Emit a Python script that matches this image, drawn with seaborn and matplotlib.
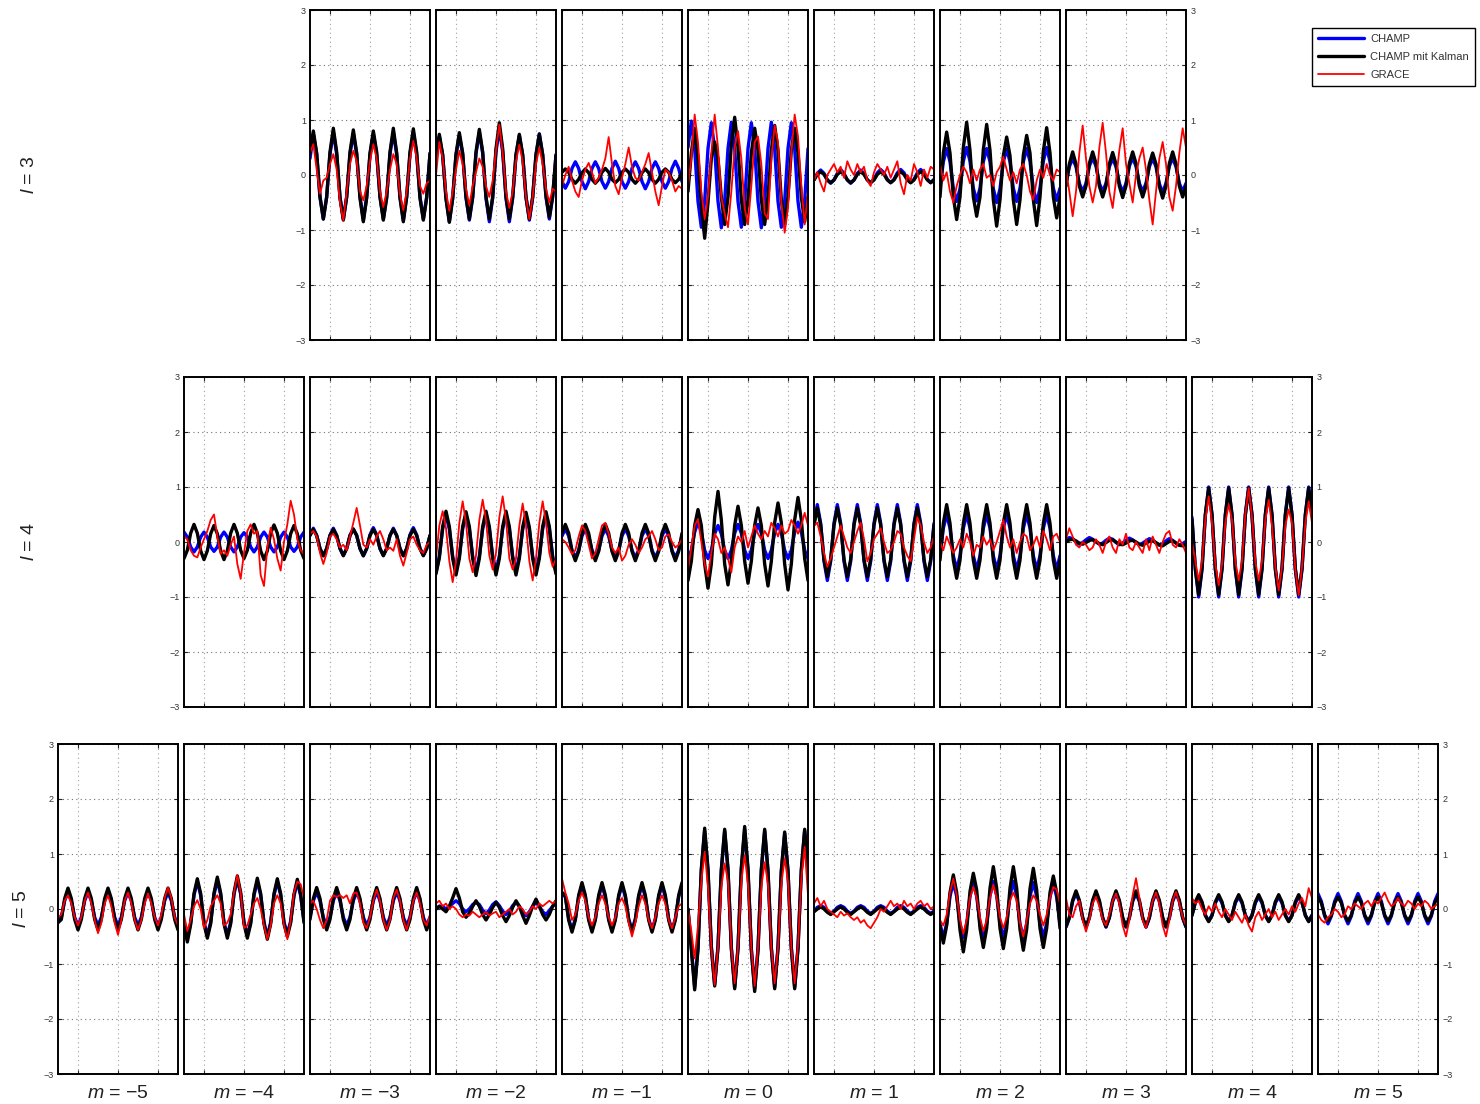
import matplotlib
matplotlib.use("Agg")
import matplotlib.pyplot as plt
import seaborn as sns

sns.set_style("white")
plt.rcParams["font.family"] = ["Liberation Sans", "DejaVu Sans"]
plt.rcParams["mathtext.fontset"] = "custom"
plt.rcParams["mathtext.it"] = "Liberation Sans:italic"
plt.rcParams["mathtext.rm"] = "Liberation Sans"

# ---------------- data ----------------
# sample times: months after Jan 2003 (bi-monthly samples, 2003 .. 2009)
MONTHS = [0, 2, 4, 6, 8, 10, 12, 14, 16, 18, 20, 22, 24, 26, 28, 30, 32, 34,
          36, 38, 40, 42, 44, 46, 48, 50, 52, 54, 56, 58, 60, 62, 64, 66, 68, 70, 72]
X_TICKS = [2004, 2006, 2008]
Y_TICKS = [-3, -2, -1, 0, 1, 2, 3]
SERIES_NAMES = ["CHAMP", "CHAMP mit Kalman", "GRACE"]

# ---- degree l = 3 ----
CHAMP_L3 = {
    -3: [0.30, 0.75, 0.38, -0.40, -0.80, -0.40, 0.38, 0.78, 0.38, -0.40, -0.80, -0.40,
         0.38, 0.76, 0.38, -0.40, -0.82, -0.40, 0.37, 0.75, 0.38, -0.40, -0.80, -0.40,
         0.38, 0.78, 0.38, -0.40, -0.82, -0.40, 0.38, 0.78, 0.38, -0.40, -0.80, -0.40, 0.38],
    -2: [0.35, 0.70, 0.36, -0.42, -0.85, -0.42, 0.36, 0.72, 0.38, -0.41, -0.82, -0.41,
         0.39, 0.78, 0.40, -0.42, -0.85, -0.42, 0.42, 0.85, 0.42, -0.42, -0.85, -0.42,
         0.36, 0.72, 0.36, -0.41, -0.82, -0.41, 0.37, 0.75, 0.37, -0.40, -0.80, -0.40, 0.36],
    -1: [-0.12, -0.24, -0.12, 0.12, 0.24, 0.12, -0.12, -0.25, -0.12, 0.12, 0.24, 0.12,
         -0.12, -0.24, -0.12, 0.12, 0.25, 0.12, -0.12, -0.24, -0.12, 0.12, 0.24, 0.12,
         -0.12, -0.25, -0.12, 0.12, 0.24, 0.12, -0.12, -0.24, -0.12, 0.12, 0.25, 0.12, -0.12],
    0: [0.50, 0.98, 0.48, -0.48, -0.95, -0.48, 0.48, 0.95, 0.48, -0.48, -0.96, -0.48,
        0.48, 0.96, 0.48, -0.48, -0.95, -0.48, 0.48, 0.95, 0.48, -0.48, -0.96, -0.48,
        0.48, 0.96, 0.48, -0.48, -0.95, -0.48, 0.48, 0.95, 0.48, -0.48, -0.95, -0.48, 0.48],
    1: [-0.09, 0.03, 0.09, 0.03, -0.09, -0.15, -0.09, 0.03, 0.10, 0.03, -0.09, -0.15,
        -0.09, 0.03, 0.09, 0.03, -0.09, -0.14, -0.08, 0.04, 0.10, 0.04, -0.08, -0.14,
        -0.08, 0.04, 0.10, 0.04, -0.08, -0.14, -0.08, 0.04, 0.10, 0.04, -0.08, -0.14, -0.08],
    2: [-0.24, 0.24, 0.48, 0.24, -0.24, -0.48, -0.25, 0.25, 0.50, 0.25, -0.24, -0.47,
        -0.24, 0.24, 0.48, 0.24, -0.25, -0.50, -0.25, 0.24, 0.47, 0.24, -0.24, -0.48,
        -0.24, 0.24, 0.48, 0.25, -0.25, -0.50, -0.24, 0.25, 0.50, 0.24, -0.24, -0.46, -0.24],
    3: [-0.15, 0.15, 0.30, 0.15, -0.15, -0.30, -0.15, 0.16, 0.31, 0.16, -0.15, -0.30,
        -0.15, 0.15, 0.30, 0.15, -0.15, -0.31, -0.15, 0.16, 0.31, 0.16, -0.15, -0.30,
        -0.15, 0.15, 0.30, 0.15, -0.16, -0.32, -0.15, 0.16, 0.31, 0.15, -0.15, -0.30, -0.15],
}
KALMAN_L3 = {
    -3: [0.40, 0.80, 0.40, -0.40, -0.80, -0.40, 0.42, 0.85, 0.42, -0.42, -0.82, -0.40,
         0.42, 0.82, 0.40, -0.42, -0.85, -0.42, 0.40, 0.80, 0.42, -0.40, -0.82, -0.42,
         0.42, 0.85, 0.40, -0.42, -0.85, -0.40, 0.42, 0.84, 0.42, -0.42, -0.82, -0.42, 0.40],
    -2: [0.37, 0.74, 0.37, -0.43, -0.86, -0.43, 0.38, 0.77, 0.40, -0.40, -0.80, -0.40,
         0.42, 0.83, 0.42, -0.40, -0.80, -0.40, 0.48, 0.95, 0.48, -0.40, -0.80, -0.40,
         0.37, 0.74, 0.37, -0.40, -0.80, -0.40, 0.37, 0.74, 0.37, -0.38, -0.77, -0.38, 0.37],
    -1: [0.05, 0.11, 0.05, -0.08, -0.15, -0.08, 0.04, 0.11, 0.04, -0.08, -0.15, -0.08,
         0.05, 0.12, 0.05, -0.08, -0.14, -0.08, 0.05, 0.11, 0.05, -0.08, -0.15, -0.08,
         0.04, 0.11, 0.04, -0.08, -0.15, -0.08, 0.05, 0.11, 0.05, -0.08, -0.14, -0.08, 0.04],
    0: [-0.30, 0.40, 0.85, 0.30, -0.55, -1.15, -0.50, 0.30, 0.60, 0.30, -0.40, -0.90,
        -0.40, 0.55, 1.05, 0.50, -0.45, -0.90, -0.45, 0.40, 0.85, 0.45, -0.45, -0.90,
        -0.40, 0.45, 0.90, 0.45, -0.45, -0.90, -0.40, 0.45, 0.85, 0.40, -0.40, -0.85, -0.40],
    1: [-0.09, 0.01, 0.06, 0.01, -0.09, -0.14, -0.09, 0.01, 0.06, 0.01, -0.09, -0.14,
        -0.09, 0.01, 0.06, 0.01, -0.09, -0.14, -0.09, 0.01, 0.06, 0.01, -0.09, -0.14,
        -0.09, 0.01, 0.06, 0.01, -0.09, -0.14, -0.09, 0.01, 0.06, 0.01, -0.09, -0.14, -0.09],
    2: [-0.40, 0.40, 0.78, 0.40, -0.40, -0.81, -0.40, 0.50, 0.96, 0.45, -0.40, -0.75,
        -0.40, 0.46, 0.92, 0.45, -0.45, -0.93, -0.45, 0.35, 0.69, 0.35, -0.45, -0.90,
        -0.45, 0.36, 0.72, 0.40, -0.45, -0.92, -0.40, 0.43, 0.86, 0.40, -0.40, -0.78, -0.40],
    3: [-0.20, 0.20, 0.42, 0.20, -0.20, -0.40, -0.20, 0.21, 0.42, 0.21, -0.20, -0.40,
        -0.20, 0.20, 0.41, 0.20, -0.20, -0.41, -0.20, 0.21, 0.42, 0.21, -0.20, -0.40,
        -0.20, 0.20, 0.40, 0.20, -0.21, -0.42, -0.20, 0.21, 0.42, 0.20, -0.20, -0.40, -0.20],
}
GRACE_L3 = {
    -3: [0.40, 0.56, 0.10, -0.34, -0.10, -0.05, 0.20, 0.38, 0.10, -0.50, -0.83, -0.30,
         0.20, 0.44, 0.25, -0.30, -0.46, -0.20, 0.25, 0.56, 0.30, -0.30, -0.58, -0.30,
         0.10, 0.38, 0.20, -0.35, -0.64, -0.30, 0.30, 0.62, 0.30, -0.20, -0.34, -0.15, -0.10],
    -2: [0.00, 0.60, 0.30, -0.30, -0.65, -0.30, 0.10, 0.44, 0.20, -0.25, -0.55, -0.20,
         0.05, 0.30, 0.15, -0.20, -0.40, -0.10, 0.45, 0.92, 0.40, -0.30, -0.60, -0.30,
         0.25, 0.55, 0.25, -0.40, -0.80, -0.40, 0.20, 0.50, 0.20, -0.25, -0.50, -0.25, -0.30],
    -1: [-0.20, 0.00, 0.15, -0.10, -0.30, -0.40, -0.10, 0.10, 0.22, 0.05, -0.15, -0.05,
         0.10, 0.30, 0.69, 0.20, -0.20, -0.35, -0.05, 0.20, 0.50, 0.15, -0.05, -0.10,
         0.05, 0.20, 0.40, 0.05, -0.30, -0.55, -0.20, 0.10, 0.05, -0.10, -0.30, -0.20, -0.25],
    0: [-0.20, 0.30, 1.10, 0.60, -0.30, -0.80, -0.40, 0.40, 1.10, 0.50, -0.40, -0.70,
        -0.95, -0.30, 0.50, 0.80, 0.30, -0.60, -0.90, -0.20, 0.60, 0.70, 0.20, -0.70,
        -0.80, 0.30, 0.90, 0.60, -0.50, -1.05, -0.60, 0.40, 1.10, 0.70, -0.20, -0.90, -0.30],
    1: [-0.10, 0.05, -0.15, -0.30, 0.00, 0.10, 0.20, 0.05, 0.15, -0.05, 0.25, 0.10,
        0.00, 0.20, 0.05, 0.15, -0.10, -0.20, 0.05, 0.20, 0.10, 0.00, 0.15, -0.05,
        0.10, 0.25, -0.15, -0.35, 0.00, -0.10, 0.20, 0.05, -0.20, 0.10, -0.05, 0.15, 0.10],
    2: [0.20, -0.10, 0.05, -0.30, -0.50, -0.20, 0.00, 0.15, 0.05, -0.15, 0.10, -0.10,
        0.10, 0.20, -0.05, 0.00, -0.20, 0.05, 0.15, 0.33, 0.10, -0.10, 0.05, -0.15,
        0.10, 0.20, 0.00, -0.30, -0.45, -0.10, 0.10, -0.05, 0.20, 0.00, -0.10, 0.10, 0.05],
    3: [0.10, -0.30, -0.75, -0.30, 0.40, 0.90, 0.30, -0.20, -0.50, -0.20, 0.50, 0.95,
        0.40, -0.30, -0.60, -0.10, 0.45, 0.85, 0.20, -0.15, -0.50, 0.00, 0.30, 0.50,
        0.10, -0.45, -0.90, -0.30, 0.30, 0.60, 0.20, -0.40, -0.65, -0.20, 0.40, 0.85, 0.50],
}

# ---- degree l = 4 ----
CHAMP_L4 = {
    -4: [0.18, 0.09, -0.09, -0.18, -0.09, 0.09, 0.18, 0.09, -0.09, -0.17, -0.09, 0.09,
         0.18, 0.09, -0.09, -0.18, -0.09, 0.09, 0.17, 0.09, -0.09, -0.18, -0.09, 0.09,
         0.18, 0.09, -0.09, -0.18, -0.09, 0.09, 0.18, 0.09, -0.09, -0.17, -0.09, 0.09, 0.18],
    -3: [0.12, 0.25, 0.12, -0.12, -0.25, -0.12, 0.12, 0.25, 0.12, -0.12, -0.24, -0.12,
         0.12, 0.24, 0.12, -0.12, -0.25, -0.12, 0.13, 0.26, 0.13, -0.12, -0.24, -0.12,
         0.12, 0.25, 0.12, -0.12, -0.25, -0.12, 0.13, 0.26, 0.13, -0.12, -0.24, -0.12, 0.12],
    -2: [-0.55, -0.26, 0.24, 0.48, 0.24, -0.26, -0.52, -0.26, 0.24, 0.48, 0.24, -0.26,
         -0.52, -0.26, 0.24, 0.47, 0.24, -0.26, -0.52, -0.26, 0.24, 0.48, 0.24, -0.26,
         -0.52, -0.26, 0.23, 0.46, 0.23, -0.26, -0.52, -0.26, 0.24, 0.48, 0.24, -0.26, -0.52],
    -1: [0.11, 0.24, 0.11, -0.15, -0.28, -0.15, 0.11, 0.24, 0.11, -0.15, -0.28, -0.15,
         0.11, 0.24, 0.11, -0.15, -0.28, -0.15, 0.11, 0.24, 0.11, -0.15, -0.28, -0.15,
         0.11, 0.24, 0.11, -0.15, -0.28, -0.15, 0.11, 0.24, 0.11, -0.15, -0.28, -0.15, 0.11],
    0: [-0.30, -0.15, 0.18, 0.36, 0.18, -0.15, -0.30, -0.15, 0.15, 0.30, 0.15, -0.15,
        -0.30, -0.15, 0.16, 0.32, 0.16, -0.15, -0.30, -0.15, 0.16, 0.32, 0.16, -0.15,
        -0.30, -0.15, 0.16, 0.32, 0.16, -0.15, -0.30, -0.15, 0.18, 0.36, 0.18, -0.15, -0.30],
    1: [0.34, 0.68, 0.34, -0.35, -0.70, -0.35, 0.34, 0.68, 0.34, -0.35, -0.70, -0.35,
        0.34, 0.68, 0.34, -0.35, -0.70, -0.35, 0.34, 0.68, 0.34, -0.35, -0.70, -0.35,
        0.34, 0.68, 0.34, -0.35, -0.70, -0.35, 0.34, 0.68, 0.34, -0.35, -0.70, -0.35, 0.34],
    2: [-0.25, 0.25, 0.50, 0.25, -0.25, -0.50, -0.25, 0.25, 0.50, 0.25, -0.25, -0.50,
        -0.25, 0.25, 0.50, 0.25, -0.25, -0.50, -0.25, 0.25, 0.50, 0.25, -0.25, -0.50,
        -0.25, 0.25, 0.50, 0.25, -0.25, -0.50, -0.25, 0.25, 0.50, 0.25, -0.25, -0.50, -0.25],
    3: [0.04, 0.08, 0.06, 0.00, -0.04, -0.01, 0.04, 0.08, 0.05, 0.00, -0.04, -0.02,
        0.03, 0.07, 0.05, -0.01, -0.05, -0.02, 0.03, 0.07, 0.04, -0.01, -0.05, -0.02,
        0.02, 0.06, 0.04, -0.02, -0.06, -0.03, 0.02, 0.06, 0.03, -0.02, -0.06, -0.03, 0.01],
    4: [0.45, -0.50, -1.00, -0.50, 0.50, 1.00, 0.50, -0.50, -1.00, -0.50, 0.50, 1.00,
        0.50, -0.50, -1.00, -0.50, 0.50, 1.00, 0.50, -0.50, -1.00, -0.50, 0.50, 1.00,
        0.50, -0.50, -1.00, -0.50, 0.50, 1.00, 0.50, -0.50, -1.00, -0.50, 0.50, 1.00, 0.50],
}
KALMAN_L4 = {
    -4: [-0.30, -0.15, 0.16, 0.32, 0.16, -0.16, -0.32, -0.16, 0.15, 0.30, 0.15, -0.16,
         -0.32, -0.16, 0.16, 0.32, 0.16, -0.15, -0.30, -0.15, 0.16, 0.32, 0.16, -0.16,
         -0.32, -0.16, 0.16, 0.31, 0.16, -0.16, -0.32, -0.16, 0.15, 0.30, 0.15, -0.15, -0.30],
    -3: [0.12, 0.23, 0.12, -0.12, -0.25, -0.12, 0.12, 0.23, 0.12, -0.12, -0.25, -0.12,
         0.12, 0.23, 0.12, -0.12, -0.25, -0.12, 0.12, 0.23, 0.12, -0.12, -0.25, -0.12,
         0.12, 0.23, 0.12, -0.12, -0.25, -0.12, 0.12, 0.23, 0.12, -0.12, -0.25, -0.12, 0.12],
    -2: [-0.58, -0.29, 0.28, 0.56, 0.28, -0.30, -0.60, -0.30, 0.28, 0.55, 0.28, -0.30,
         -0.61, -0.30, 0.28, 0.56, 0.28, -0.30, -0.60, -0.30, 0.28, 0.56, 0.28, -0.30,
         -0.60, -0.30, 0.27, 0.54, 0.27, -0.30, -0.60, -0.30, 0.28, 0.55, 0.28, -0.30, -0.58],
    -1: [0.16, 0.32, 0.16, -0.17, -0.34, -0.17, 0.16, 0.32, 0.16, -0.17, -0.34, -0.17,
         0.16, 0.32, 0.16, -0.17, -0.34, -0.17, 0.16, 0.32, 0.16, -0.17, -0.34, -0.17,
         0.16, 0.32, 0.16, -0.17, -0.34, -0.17, 0.16, 0.32, 0.16, -0.17, -0.34, -0.17, 0.16],
    0: [-0.70, -0.35, 0.30, 0.59, 0.30, -0.40, -0.84, -0.40, 0.45, 0.92, 0.40, -0.40,
        -0.78, -0.35, 0.30, 0.65, 0.30, -0.35, -0.75, -0.35, 0.30, 0.62, 0.30, -0.40,
        -0.80, -0.35, 0.35, 0.71, 0.35, -0.40, -0.87, -0.40, 0.40, 0.81, 0.40, -0.30, -0.70],
    1: [0.31, 0.62, 0.31, -0.32, -0.63, -0.32, 0.31, 0.62, 0.31, -0.32, -0.63, -0.32,
        0.31, 0.62, 0.31, -0.32, -0.63, -0.32, 0.31, 0.62, 0.31, -0.32, -0.63, -0.32,
        0.31, 0.62, 0.31, -0.32, -0.63, -0.32, 0.31, 0.62, 0.31, -0.32, -0.63, -0.32, 0.31],
    2: [-0.33, 0.34, 0.68, 0.34, -0.33, -0.66, -0.33, 0.34, 0.68, 0.34, -0.33, -0.66,
        -0.33, 0.34, 0.68, 0.34, -0.33, -0.66, -0.33, 0.34, 0.68, 0.34, -0.33, -0.66,
        -0.33, 0.34, 0.68, 0.34, -0.33, -0.66, -0.33, 0.34, 0.68, 0.34, -0.33, -0.66, -0.33],
    3: [0.00, 0.04, 0.05, 0.02, -0.02, -0.04, -0.01, 0.03, 0.04, 0.01, -0.03, -0.05,
        -0.01, 0.03, 0.04, 0.00, -0.04, -0.05, -0.02, 0.02, 0.03, 0.00, -0.04, -0.06,
        -0.02, 0.01, 0.02, -0.01, -0.05, -0.07, -0.03, 0.01, 0.02, -0.02, -0.06, -0.07, -0.04],
    4: [0.40, -0.48, -0.96, -0.48, 0.49, 0.98, 0.49, -0.48, -0.96, -0.48, 0.49, 0.98,
        0.49, -0.48, -0.96, -0.48, 0.49, 0.98, 0.49, -0.48, -0.96, -0.48, 0.49, 0.98,
        0.49, -0.48, -0.96, -0.48, 0.49, 0.98, 0.49, -0.48, -0.96, -0.48, 0.49, 0.98, 0.49],
}
GRACE_L4 = {
    -4: [0.10, 0.05, -0.15, -0.25, -0.28, -0.10, 0.05, 0.20, 0.40, 0.50, 0.10, -0.22,
         -0.15, -0.25, -0.05, 0.10, -0.40, -0.67, -0.20, 0.20, 0.32, 0.15, 0.20, -0.60,
         -0.80, -0.10, 0.26, 0.05, -0.30, -0.52, 0.00, 0.32, 0.75, 0.50, 0.05, -0.15, -0.22],
    -3: [0.15, 0.20, 0.10, -0.20, -0.40, -0.20, 0.10, 0.15, 0.05, -0.10, -0.05, -0.15,
         0.10, 0.35, 0.62, 0.30, -0.05, -0.10, 0.05, -0.05, 0.10, 0.20, 0.05, -0.15,
         -0.10, -0.16, 0.05, -0.25, -0.43, -0.20, 0.05, 0.10, -0.05, -0.15, -0.20, -0.05, 0.00],
    -2: [-0.30, 0.30, 0.56, 0.25, -0.35, -0.73, -0.35, 0.35, 0.74, 0.35, -0.30, -0.55,
         -0.25, 0.40, 0.77, 0.40, -0.25, -0.50, -0.20, 0.45, 0.83, 0.40, -0.30, -0.50,
         -0.30, 0.30, 0.70, 0.30, -0.35, -0.70, -0.30, 0.35, 0.74, 0.35, -0.20, -0.45, -0.30],
    -1: [0.05, 0.00, -0.10, -0.22, -0.15, 0.10, 0.30, 0.20, -0.05, -0.30, -0.20, 0.05,
         0.30, 0.35, 0.15, -0.10, -0.20, -0.10, -0.34, -0.25, -0.05, 0.05, -0.05, -0.20,
         -0.10, 0.05, 0.10, 0.20, 0.05, -0.15, -0.10, 0.10, 0.14, 0.00, -0.10, -0.05, 0.05],
    0: [-0.50, -0.10, 0.30, 0.41, 0.00, -0.40, -0.63, -0.20, 0.15, 0.05, -0.20, -0.10,
        -0.30, -0.55, -0.10, 0.10, 0.00, 0.20, -0.10, 0.10, 0.30, 0.15, 0.05, 0.20,
        0.10, 0.35, 0.25, 0.10, 0.30, 0.15, 0.20, 0.40, 0.30, 0.15, 0.30, 0.53, 0.30],
    1: [0.30, 0.35, 0.10, -0.20, -0.45, -0.30, -0.10, 0.10, 0.30, 0.10, -0.10, -0.20,
        0.00, 0.20, 0.35, 0.05, -0.35, -0.20, 0.05, 0.15, 0.25, 0.00, -0.20, -0.15,
        0.00, 0.20, 0.15, -0.10, -0.25, -0.35, 0.05, 0.45, 0.30, 0.00, -0.20, -0.10, 0.10],
    2: [0.00, -0.15, 0.10, -0.05, -0.20, -0.10, 0.05, -0.10, 0.15, 0.00, -0.25, -0.05,
        -0.10, 0.10, -0.05, 0.05, -0.15, 0.00, 0.20, 0.40, 0.10, -0.10, 0.05, -0.20,
        0.00, 0.15, 0.10, -0.15, -0.05, 0.10, -0.10, 0.20, 0.05, -0.15, 0.10, 0.15, 0.00],
    3: [0.05, 0.25, 0.10, -0.05, -0.10, 0.00, -0.05, -0.15, -0.10, 0.05, -0.05, -0.20,
        0.00, 0.10, -0.10, -0.20, 0.05, -0.05, 0.15, -0.10, -0.15, 0.00, -0.10, -0.20,
        0.05, -0.15, 0.10, -0.05, -0.20, 0.00, 0.15, 0.20, -0.05, -0.10, 0.05, -0.05, -0.20],
    4: [0.00, -0.35, -0.70, -0.35, 0.40, 0.83, 0.35, -0.40, -0.79, -0.40, 0.35, 0.68,
        0.40, -0.35, -0.70, -0.35, 0.50, 0.98, 0.45, -0.35, -0.70, -0.35, 0.40, 0.77,
        0.30, -0.45, -0.88, -0.45, 0.30, 0.59, 0.35, -0.50, -0.97, -0.45, 0.35, 0.74, 0.35],
}

# ---- degree l = 5 ----
CHAMP_L5 = {
    -5: [-0.20, -0.15, 0.15, 0.30, 0.15, -0.15, -0.30, -0.15, 0.15, 0.30, 0.15, -0.15,
         -0.30, -0.15, 0.15, 0.30, 0.15, -0.15, -0.30, -0.15, 0.15, 0.30, 0.15, -0.15,
         -0.30, -0.15, 0.15, 0.30, 0.15, -0.15, -0.30, -0.15, 0.15, 0.30, 0.15, -0.15, -0.30],
    -4: [-0.27, -0.54, -0.25, 0.25, 0.50, 0.25, -0.24, -0.48, -0.24, 0.26, 0.52, 0.26,
         -0.24, -0.48, -0.24, 0.27, 0.54, 0.27, -0.24, -0.48, -0.24, 0.25, 0.50, 0.25,
         -0.24, -0.50, -0.24, 0.25, 0.50, 0.25, -0.24, -0.45, -0.22, 0.24, 0.49, 0.24, -0.22],
    -3: [-0.15, 0.15, 0.31, 0.15, -0.15, -0.30, -0.15, 0.15, 0.31, 0.15, -0.15, -0.30,
         -0.15, 0.15, 0.31, 0.15, -0.15, -0.30, -0.15, 0.15, 0.31, 0.15, -0.15, -0.30,
         -0.15, 0.15, 0.31, 0.15, -0.15, -0.30, -0.15, 0.15, 0.31, 0.15, -0.15, -0.30, -0.15],
    -2: [0.00, 0.05, 0.05, 0.00, 0.05, 0.10, 0.15, 0.10, 0.00, -0.05, 0.00, 0.08,
         0.12, 0.08, -0.02, -0.08, -0.02, 0.08, 0.13, 0.06, -0.04, -0.10, -0.04, 0.06,
         0.12, 0.05, -0.05, -0.12, -0.05, 0.05, 0.12, 0.05, -0.05, -0.10, -0.03, 0.05, 0.10],
    -1: [0.28, 0.22, -0.18, -0.38, -0.18, 0.22, 0.43, 0.22, -0.18, -0.38, -0.18, 0.22,
         0.43, 0.22, -0.18, -0.38, -0.18, 0.22, 0.43, 0.22, -0.18, -0.38, -0.18, 0.22,
         0.43, 0.22, -0.18, -0.38, -0.18, 0.22, 0.43, 0.22, -0.18, -0.38, -0.18, 0.22, 0.43],
    0: [0.00, -0.70, -1.42, -0.70, 0.70, 1.42, 0.70, -0.68, -1.37, -0.68, 0.70, 1.42,
        0.70, -0.70, -1.42, -0.70, 0.72, 1.45, 0.70, -0.72, -1.45, -0.72, 0.70, 1.42,
        0.68, -0.70, -1.42, -0.70, 0.68, 1.37, 0.68, -0.70, -1.42, -0.70, 0.70, 1.42, 0.70],
    1: [-0.04, 0.03, 0.06, 0.03, -0.04, -0.08, -0.04, 0.03, 0.06, 0.03, -0.04, -0.08,
        -0.04, 0.03, 0.06, 0.03, -0.04, -0.08, -0.04, 0.03, 0.06, 0.03, -0.04, -0.08,
        -0.04, 0.03, 0.06, 0.03, -0.04, -0.08, -0.04, 0.03, 0.06, 0.03, -0.04, -0.08, -0.04],
    2: [-0.27, -0.52, -0.27, 0.23, 0.48, 0.23, -0.27, -0.52, -0.27, 0.23, 0.48, 0.23,
        -0.27, -0.52, -0.27, 0.24, 0.50, 0.24, -0.27, -0.52, -0.27, 0.24, 0.50, 0.24,
        -0.27, -0.52, -0.27, 0.23, 0.48, 0.23, -0.27, -0.50, -0.27, 0.22, 0.46, 0.22, -0.27],
    3: [-0.33, -0.16, 0.14, 0.28, 0.14, -0.16, -0.33, -0.16, 0.14, 0.28, 0.14, -0.16,
        -0.33, -0.16, 0.14, 0.28, 0.14, -0.16, -0.33, -0.16, 0.14, 0.28, 0.14, -0.16,
        -0.33, -0.16, 0.14, 0.28, 0.14, -0.16, -0.33, -0.16, 0.14, 0.28, 0.14, -0.16, -0.33],
    4: [-0.11, 0.11, 0.22, 0.11, -0.11, -0.22, -0.11, 0.11, 0.22, 0.11, -0.11, -0.22,
        -0.11, 0.11, 0.22, 0.11, -0.11, -0.22, -0.11, 0.11, 0.22, 0.11, -0.11, -0.22,
        -0.11, 0.11, 0.22, 0.11, -0.11, -0.22, -0.11, 0.11, 0.22, 0.11, -0.11, -0.22, -0.11],
    5: [0.28, 0.14, -0.13, -0.27, -0.13, 0.14, 0.28, 0.14, -0.13, -0.27, -0.13, 0.14,
        0.28, 0.14, -0.13, -0.27, -0.13, 0.14, 0.28, 0.14, -0.13, -0.27, -0.13, 0.14,
        0.28, 0.14, -0.13, -0.27, -0.13, 0.14, 0.28, 0.14, -0.13, -0.27, -0.13, 0.14, 0.28],
}
KALMAN_L5 = {
    -5: [-0.25, -0.19, 0.19, 0.38, 0.19, -0.19, -0.38, -0.19, 0.19, 0.38, 0.19, -0.19,
         -0.38, -0.19, 0.19, 0.38, 0.19, -0.19, -0.38, -0.19, 0.19, 0.38, 0.19, -0.19,
         -0.38, -0.19, 0.19, 0.38, 0.19, -0.19, -0.38, -0.19, 0.19, 0.38, 0.19, -0.19, -0.38],
    -4: [-0.30, -0.60, -0.28, 0.28, 0.55, 0.28, -0.27, -0.53, -0.27, 0.29, 0.58, 0.29,
         -0.27, -0.53, -0.27, 0.30, 0.60, 0.30, -0.27, -0.53, -0.27, 0.28, 0.56, 0.28,
         -0.27, -0.55, -0.27, 0.28, 0.55, 0.28, -0.27, -0.50, -0.25, 0.27, 0.54, 0.27, -0.25],
    -3: [-0.19, 0.19, 0.39, 0.19, -0.19, -0.38, -0.19, 0.19, 0.39, 0.19, -0.19, -0.38,
         -0.19, 0.19, 0.39, 0.19, -0.19, -0.38, -0.19, 0.19, 0.39, 0.19, -0.19, -0.38,
         -0.19, 0.19, 0.39, 0.19, -0.19, -0.38, -0.19, 0.19, 0.39, 0.19, -0.19, -0.38, -0.19],
    -2: [0.00, 0.05, 0.00, -0.05, 0.05, 0.20, 0.37, 0.20, -0.05, -0.15, -0.08, 0.05,
         0.15, 0.05, -0.10, -0.20, -0.10, 0.03, 0.12, 0.03, -0.12, -0.23, -0.12, 0.03,
         0.15, 0.05, -0.12, -0.26, -0.12, 0.05, 0.18, 0.05, -0.10, -0.20, -0.10, 0.05, 0.15],
    -1: [0.30, 0.25, -0.20, -0.42, -0.20, 0.25, 0.48, 0.25, -0.20, -0.42, -0.20, 0.25,
         0.48, 0.25, -0.20, -0.42, -0.20, 0.25, 0.48, 0.25, -0.20, -0.42, -0.20, 0.25,
         0.48, 0.25, -0.20, -0.42, -0.20, 0.25, 0.48, 0.25, -0.20, -0.42, -0.20, 0.25, 0.48],
    0: [0.00, -0.73, -1.47, -0.73, 0.73, 1.47, 0.72, -0.70, -1.40, -0.70, 0.72, 1.45,
        0.73, -0.72, -1.45, -0.72, 0.75, 1.50, 0.73, -0.75, -1.50, -0.75, 0.72, 1.45,
        0.70, -0.72, -1.45, -0.72, 0.70, 1.40, 0.70, -0.72, -1.45, -0.72, 0.72, 1.45, 0.72],
    1: [-0.05, 0.00, 0.04, 0.00, -0.06, -0.10, -0.05, 0.00, 0.04, 0.00, -0.06, -0.10,
        -0.05, 0.00, 0.04, 0.00, -0.06, -0.10, -0.05, 0.00, 0.04, 0.00, -0.06, -0.10,
        -0.05, 0.00, 0.04, 0.00, -0.06, -0.10, -0.05, 0.00, 0.04, 0.00, -0.06, -0.10, -0.05],
    2: [-0.30, -0.62, -0.30, 0.30, 0.62, 0.30, -0.38, -0.78, -0.38, 0.32, 0.65, 0.35,
        -0.35, -0.70, -0.35, 0.38, 0.77, 0.38, -0.35, -0.72, -0.35, 0.38, 0.77, 0.38,
        -0.37, -0.75, -0.37, 0.37, 0.74, 0.35, -0.35, -0.70, -0.35, 0.30, 0.60, 0.30, -0.35],
    3: [-0.32, -0.16, 0.16, 0.33, 0.16, -0.16, -0.32, -0.16, 0.16, 0.33, 0.16, -0.16,
        -0.32, -0.16, 0.16, 0.33, 0.16, -0.16, -0.32, -0.16, 0.16, 0.33, 0.16, -0.16,
        -0.32, -0.16, 0.16, 0.33, 0.16, -0.16, -0.32, -0.16, 0.16, 0.33, 0.16, -0.16, -0.32],
    4: [-0.12, 0.13, 0.26, 0.13, -0.12, -0.23, -0.12, 0.13, 0.26, 0.13, -0.12, -0.23,
        -0.12, 0.13, 0.26, 0.13, -0.12, -0.23, -0.12, 0.13, 0.26, 0.13, -0.12, -0.23,
        -0.12, 0.13, 0.26, 0.13, -0.12, -0.23, -0.12, 0.13, 0.26, 0.13, -0.12, -0.23, -0.12],
    5: [0.22, 0.11, -0.11, -0.22, -0.11, 0.11, 0.22, 0.11, -0.11, -0.22, -0.11, 0.11,
        0.22, 0.11, -0.11, -0.22, -0.11, 0.11, 0.22, 0.11, -0.11, -0.22, -0.11, 0.11,
        0.22, 0.11, -0.11, -0.22, -0.11, 0.11, 0.22, 0.11, -0.11, -0.22, -0.11, 0.11, 0.22],
}
GRACE_L5 = {
    -5: [-0.15, -0.10, 0.15, 0.25, 0.10, -0.15, -0.30, -0.15, 0.15, 0.30, 0.10, -0.20,
         -0.44, -0.25, 0.10, 0.25, 0.05, -0.25, -0.47, -0.20, 0.15, 0.30, 0.10, -0.20,
         -0.38, -0.20, 0.10, 0.28, 0.10, -0.15, -0.30, -0.10, 0.20, 0.39, 0.20, -0.15, -0.30],
    -4: [-0.10, -0.40, -0.20, 0.05, 0.16, 0.00, -0.35, -0.20, 0.05, 0.15, 0.25, 0.10,
         -0.30, -0.25, -0.10, 0.30, 0.62, 0.30, -0.35, -0.30, -0.10, 0.10, 0.20, 0.00,
         -0.30, -0.55, -0.30, 0.10, 0.25, 0.10, -0.30, -0.55, -0.20, 0.30, 0.50, 0.45, 0.20],
    -3: [0.10, 0.15, 0.00, -0.20, -0.35, -0.20, 0.15, 0.25, 0.22, 0.25, 0.20, 0.25,
         0.10, 0.28, 0.30, 0.10, -0.25, -0.35, -0.15, 0.15, 0.35, 0.15, -0.20, -0.38,
         -0.20, 0.20, 0.35, 0.15, -0.20, -0.38, -0.15, 0.15, 0.30, 0.10, -0.20, -0.30, -0.10],
    -2: [0.10, 0.15, 0.05, 0.10, 0.00, 0.05, 0.00, -0.10, -0.15, -0.10, -0.12, -0.05,
         -0.10, -0.15, -0.10, -0.05, -0.12, -0.08, -0.05, -0.15, -0.10, -0.05, 0.00, -0.10,
         -0.05, 0.05, 0.00, -0.10, -0.05, 0.05, 0.00, 0.10, 0.05, 0.10, 0.15, 0.10, 0.15],
    -1: [0.55, 0.30, 0.10, -0.20, -0.10, 0.15, 0.30, 0.15, -0.15, -0.30, -0.15, 0.10,
         0.25, 0.10, -0.15, -0.30, -0.15, 0.10, 0.20, 0.05, -0.25, -0.50, -0.25, 0.05,
         0.25, 0.10, -0.20, -0.35, -0.15, 0.10, 0.25, 0.10, -0.20, -0.35, -0.15, 0.05, 0.10],
    0: [0.00, -0.40, -0.90, -0.30, 0.50, 1.04, 0.40, -0.70, -1.38, -0.70, 0.40, 0.83,
        0.50, -0.70, -1.35, -0.70, 0.50, 0.98, 0.45, -0.70, -1.40, -0.70, 0.40, 0.85,
        0.45, -0.70, -1.35, -0.70, 0.45, 0.92, 0.50, -0.70, -1.35, -0.65, 0.55, 1.13, 0.25],
    1: [0.10, 0.20, 0.05, 0.15, 0.00, -0.05, -0.10, -0.15, -0.05, -0.12, -0.08, -0.15,
        -0.20, -0.15, -0.25, -0.20, -0.30, -0.35, -0.25, -0.15, 0.00, -0.05, 0.05, 0.15,
        0.05, 0.10, 0.00, 0.15, 0.05, 0.10, 0.00, 0.10, 0.15, 0.05, 0.10, 0.00, 0.05],
    2: [-0.20, -0.30, -0.10, 0.30, 0.55, 0.25, -0.20, -0.45, -0.20, 0.20, 0.40, 0.20,
        -0.15, -0.40, -0.20, 0.20, 0.44, 0.20, -0.15, -0.35, -0.15, 0.15, 0.30, 0.15,
        -0.25, -0.50, -0.20, 0.10, 0.25, 0.15, -0.10, -0.30, -0.10, 0.20, 0.40, 0.35, 0.10],
    3: [0.20, -0.10, -0.15, 0.05, 0.15, -0.20, -0.41, -0.20, 0.10, 0.22, 0.05, -0.20,
        -0.30, -0.10, 0.15, 0.28, 0.10, -0.30, -0.50, -0.20, 0.25, 0.56, 0.20, -0.20,
        -0.35, -0.10, 0.15, 0.30, 0.10, -0.30, -0.50, -0.20, 0.15, 0.31, 0.10, -0.15, -0.30],
    4: [0.20, 0.10, 0.15, 0.00, -0.10, 0.05, -0.05, 0.10, -0.05, -0.15, 0.00, -0.10,
        -0.20, -0.05, -0.15, -0.25, -0.10, -0.30, -0.41, -0.15, -0.05, -0.20, -0.10, 0.00,
        -0.15, -0.05, -0.20, -0.10, 0.00, -0.10, 0.05, -0.05, 0.10, 0.20, 0.05, 0.38, 0.20],
    5: [-0.10, -0.20, -0.25, -0.15, -0.10, 0.00, -0.05, -0.15, -0.10, 0.05, 0.00, 0.10,
        0.05, 0.00, 0.10, 0.15, 0.05, 0.15, 0.10, 0.20, 0.30, 0.15, 0.05, 0.10,
        0.20, 0.10, 0.05, 0.15, 0.10, 0.00, 0.10, 0.05, 0.15, 0.10, 0.00, 0.05, 0.10],
}

CHAMP = {3: CHAMP_L3, 4: CHAMP_L4, 5: CHAMP_L5}
KALMAN = {3: KALMAN_L3, 4: KALMAN_L4, 5: KALMAN_L5}
GRACE = {3: GRACE_L3, 4: GRACE_L4, 5: GRACE_L5}

# ---------------- layout ----------------
W, H = 1480, 1104
fig = plt.figure(figsize=(W / 100, H / 100), dpi=100)
fig.patch.set_facecolor("white")

PANEL_W, PANEL_H = 120, 330
COL_X0, COL_STEP = 58, 126
ROW_TOP = {3: 10, 4: 377, 5: 744}
YLABEL_X = {3: 30, 4: 30, 5: 22}

years = [2003 + mo / 12 for mo in MONTHS]
styles = [(CHAMP, "#0000ff", 2.4), (KALMAN, "#000000", 2.4), (GRACE, "#ff0000", 1.3)]

legend_handles = None
for l in (3, 4, 5):
    top = ROW_TOP[l]
    for m in range(-l, l + 1):
        c = m + 5
        left = COL_X0 + COL_STEP * c
        ax = fig.add_axes([left / W, 1 - (top + PANEL_H) / H, PANEL_W / W, PANEL_H / H])
        for (src, col, lw), name in zip(styles, SERIES_NAMES):
            sns.lineplot(x=years, y=src[l][m], ax=ax, color=col, linewidth=lw,
                         label=name, legend=False, sort=False,
                         solid_joinstyle="round", solid_capstyle="round")
        ax.set_xlim(2003, 2009)
        ax.set_ylim(-3, 3)
        ax.set_xticks(X_TICKS)
        ax.set_yticks(Y_TICKS)
        ax.set_xlabel("")
        ax.set_ylabel("")
        ax.xaxis.grid(True, color="#a0a0a0", linestyle=(0, (1, 3)), linewidth=0.8)
        ax.yaxis.grid(True, color="#707070", linestyle=(0, (1, 3)), linewidth=0.8)
        ax.tick_params(direction="in", length=3, width=0.8, top=True, right=True,
                       bottom=True, left=True, labelbottom=False,
                       labelleft=(m == -l), labelright=(m == l),
                       labelsize=6.5, labelcolor="#333333", pad=3)
        for sp in ax.spines.values():
            sp.set_visible(True)
            sp.set_color("black")
            sp.set_linewidth(1.4)
        if legend_handles is None:
            legend_handles = ax.get_lines()[:3]
    fig.text(YLABEL_X[l] / W, 1 - (top + PANEL_H / 2) / H, "$l$ = %d" % l,
             rotation=90, ha="center", va="center", fontsize=14, color="#222222")

for m in range(-5, 6):
    cx = COL_X0 + COL_STEP * (m + 5) + PANEL_W / 2
    lab = "$m$ = %s" % (("\u2212%d" % -m) if m < 0 else "%d" % m)
    fig.text(cx / W, 1 - 1093 / H, lab, ha="center", va="center", fontsize=14,
             color="#222222")

leg = fig.legend(legend_handles, SERIES_NAMES, loc="upper right",
                 bbox_to_anchor=(1475 / W, 1 - 28 / H), borderaxespad=0,
                 fontsize=8, frameon=True, fancybox=False, framealpha=1,
                 edgecolor="black", handlelength=4.1, handletextpad=0.55,
                 labelspacing=0.72, borderpad=0.55)
leg.get_frame().set_linewidth(1.0)
for t in leg.get_texts():
    t.set_color("#333333")

fig.savefig("out.png", dpi=100, facecolor="white")
